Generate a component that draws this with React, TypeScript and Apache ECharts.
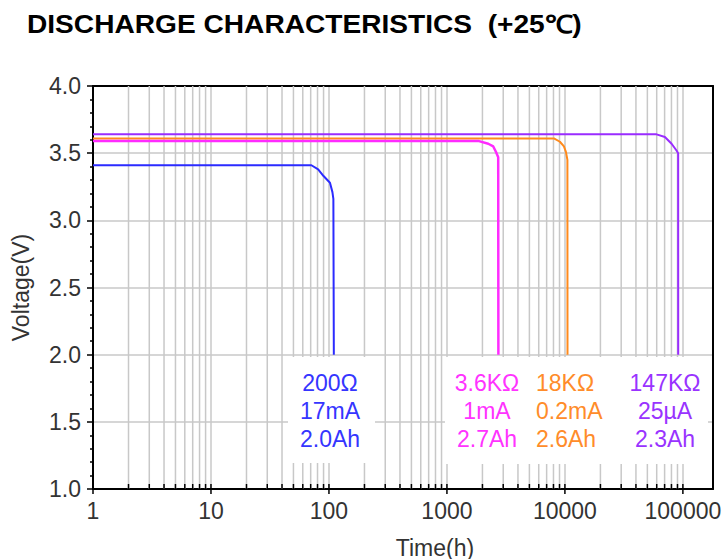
import React, { useEffect, useRef } from 'react';
import * as echarts from 'echarts';

const titleText = 'DISCHARGE CHARACTERISTICS  (+25\u2103)';
const xAxisName = 'Time(h)';
const yAxisName = 'Voltage(V)';

// x tick positions (hours)
const xMajorTicks = [1, 10, 100, 1000, 10000, 100000];
const xMinorTicks = [
  2, 3, 4, 5, 6, 7, 8, 9,
  20, 30, 40, 50, 60, 70, 80, 90,
  200, 300, 400, 500, 600, 700, 800, 900,
  2000, 3000, 4000, 5000, 6000, 7000, 8000, 9000,
  20000, 30000, 40000, 50000, 60000, 70000, 80000, 90000,
];

// curves: time (h) and voltage (V)
const blueT = [1, 71, 81, 90, 102, 107, 109, 110];
const blueV = [3.41, 3.41, 3.38, 3.33, 3.28, 3.21, 3.16, 2.0];
const magentaT = [1, 1870, 2240, 2470, 2600, 2720, 2730];
const magentaV = [3.59, 3.59, 3.57, 3.55, 3.51, 3.47, 2.0];
const orangeT = [1, 8070, 9070, 9810, 10200, 10500, 10520];
const orangeV = [3.61, 3.61, 3.585, 3.55, 3.51, 3.45, 2.0];
const purpleT = [1, 59800, 70400, 80200, 88300, 91200, 91300];
const purpleV = [3.64, 3.64, 3.62, 3.57, 3.52, 3.5, 2.0];

const blueLabels = ['200\u03A9', '17mA', '2.0Ah'];
const magentaLabels = ['3.6K\u03A9', '1mA', '2.7Ah'];
const orangeLabels = ['18K\u03A9', '0.2mA', '2.6Ah'];
const purpleLabels = ['147K\u03A9', '25\u00B5A', '2.3Ah'];

const FONT = "'Liberation Sans', Arial, sans-serif";
const GRID = '#c8c8c8';

function pairs(t: number[], v: number[]) {
  return t.map((x, i) => [x, v[i]]);
}

function textBlock(lines: string[], x: number, ys: number[], color: string, align: string) {
  return lines.map((s, i) => ({
    type: 'text',
    x,
    y: ys[i],
    z: 20,
    style: {
      text: s,
      fill: color,
      font: `23px ${FONT}`,
      textAlign: align,
      textVerticalAlign: 'middle',
    },
  }));
}

export default function App() {
  const ref = useRef<HTMLDivElement>(null);
  useEffect(() => {
    if (!ref.current) return;
    const chart = echarts.init(ref.current, null, { renderer: 'svg' });
    const rows = [383, 411, 439];
    const option: any = {
      animation: false,
      backgroundColor: '#fff',
      grid: { left: 93, top: 86, right: 12, bottom: 70, outerBoundsMode: 'none', containLabel: false },
      xAxis: [
        {
          type: 'log',
          logBase: 10,
          min: 1,
          max: 180000,
          name: xAxisName,
          nameLocation: 'middle',
          nameGap: 47,
          nameTextStyle: { fontFamily: FONT, fontSize: 23, color: '#333', padding: [0, 0, 0, 64] },
          axisLine: { show: true, lineStyle: { color: '#000', width: 2 } },
          axisTick: { show: false },
          axisLabel: {
            margin: 10,
            fontFamily: FONT,
            fontSize: 23,
            color: '#333',
            showMaxLabel: false,
            formatter: (v: number) => {
              const l = Math.log10(v);
              return Math.abs(l - Math.round(l)) < 1e-6 ? String(Math.round(v)) : '';
            },
          },
          splitLine: { show: true, lineStyle: { color: GRID, width: 1.5 } },
        },
        {
          type: 'log',
          logBase: 10,
          min: 1,
          max: 180000,
          position: 'top',
          axisLine: { show: true, onZero: false, lineStyle: { color: '#000', width: 2 } },
          axisTick: { show: false },
          axisLabel: { show: false },
          splitLine: { show: false },
        },
      ],
      yAxis: [
        {
          type: 'value',
          min: 1,
          max: 4,
          interval: 0.5,
          name: yAxisName,
          nameLocation: 'middle',
          nameGap: 61,
          nameTextStyle: { fontFamily: FONT, fontSize: 23, color: '#333' },
          axisLine: { show: true, lineStyle: { color: '#000', width: 2 } },
          axisTick: { show: true, length: 6, lineStyle: { color: '#000', width: 1.5 } },
          minorTick: { show: true, splitNumber: 5, length: 3, lineStyle: { color: '#000', width: 1.5 } },
          axisLabel: {
            margin: 12,
            fontFamily: FONT,
            fontSize: 23,
            color: '#333',
            formatter: (v: number) => v.toFixed(1),
          },
          splitLine: { show: true, lineStyle: { color: GRID, width: 1.5 } },
        },
        {
          type: 'value',
          min: 1,
          max: 4,
          position: 'right',
          axisLine: { show: true, onZero: false, lineStyle: { color: '#000', width: 2 } },
          axisTick: { show: false },
          axisLabel: { show: false },
          splitLine: { show: false },
        },
      ],
      series: [
        {
          type: 'custom',
          silent: true,
          z: 1,
          clip: false,
          data: xMinorTicks.map((v) => [v, 1]),
          renderItem: (params: any, api: any) => {
            const p0 = api.coord([api.value(0), 1]);
            const p1 = api.coord([api.value(0), 4]);
            return {
              type: 'group',
              children: [
                { type: 'line', shape: { x1: p0[0], y1: p1[1], x2: p0[0], y2: p0[1] }, style: { stroke: GRID, lineWidth: 1.5 } },
                { type: 'line', z2: 50, shape: { x1: p0[0], y1: p0[1] - 5, x2: p0[0], y2: p0[1] }, style: { stroke: '#000', lineWidth: 1.5 } },
              ],
            };
          },
        },
        {
          type: 'custom',
          silent: true,
          z: 6,
          clip: false,
          data: xMajorTicks.map((v) => [v, 1]),
          renderItem: (params: any, api: any) => {
            const p0 = api.coord([api.value(0), 1]);
            return {
              type: 'line',
              shape: { x1: p0[0], y1: p0[1] - 5, x2: p0[0], y2: p0[1] + 5 },
              style: { stroke: '#000', lineWidth: 1.5 },
            };
          },
        },
        {
          type: 'line',
          name: '200\u03A9',
          data: pairs(blueT, blueV),
          showSymbol: false,
          z: 5,
          lineStyle: { color: '#2b2bff', width: 2 },
        },
        {
          type: 'line',
          name: '18K\u03A9',
          data: pairs(orangeT, orangeV),
          showSymbol: false,
          z: 5,
          lineStyle: { color: '#ff8a1c', width: 2 },
        },
        {
          type: 'line',
          name: '3.6K\u03A9',
          data: pairs(magentaT, magentaV),
          showSymbol: false,
          z: 5,
          lineStyle: { color: '#ff2bff', width: 2.5 },
        },
        {
          type: 'line',
          name: '147K\u03A9',
          data: pairs(purpleT, purpleV),
          showSymbol: false,
          z: 5,
          lineStyle: { color: '#9a2cff', width: 2 },
        },
      ],
      graphic: [
        {
          type: 'text',
          x: 27,
          y: 25,
          scaleX: 1.125,
          z: 20,
          style: {
            text: titleText,
            fill: '#000',
            font: `bold 25px ${FONT}`,
            textAlign: 'left',
            textVerticalAlign: 'middle',
          },
        },
        { type: 'rect', z: 10, shape: { x: 288, y: 357, width: 87, height: 106 }, style: { fill: '#fff' } },
        { type: 'rect', z: 10, shape: { x: 445, y: 357, width: 263, height: 107 }, style: { fill: '#fff' } },
        ...textBlock(blueLabels, 330, rows, '#3535ff', 'center'),
        ...textBlock(magentaLabels, 487, rows, '#ff33ff', 'center'),
        ...textBlock(orangeLabels, 536, rows, '#ff8c2a', 'left'),
        ...textBlock(purpleLabels, 665, rows, '#9933ff', 'center'),
      ],
    };
    chart.setOption(option);
    return () => chart.dispose();
  }, []);
  return <div ref={ref} style={{ position: 'absolute', left: 0, top: 0, width: 725, height: 559 }} />;
}
